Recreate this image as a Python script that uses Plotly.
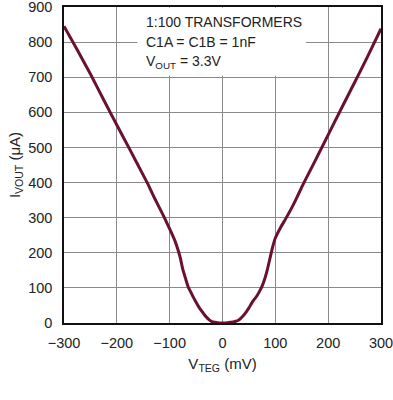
import plotly.graph_objects as go

# V_TEG (mV) and I_VOUT (uA)
v_teg = [-300, -275, -250, -225, -200, -175, -150, -140, -130, -120, -110, -100,
         -90, -85, -80, -75, -70, -65, -60, -55, -50, -45, -40, -35, -30, -25,
         -20, -15, -10, -5, 0, 5, 10, 15, 20, 25, 30, 35, 40, 45, 50, 55, 60,
         65, 70, 75, 80, 85, 90, 95, 100, 110, 120, 130, 140, 150, 160, 175,
         200, 225, 250, 275, 300]
i_vout = [845, 778, 709, 636, 564, 493, 421, 392, 360, 330, 300, 268,
          234, 212, 186, 152, 127, 103, 88, 73, 59, 46, 35, 25, 16, 9,
          4, 2, 1, 0, 0, 0, 1, 2, 3, 5, 8, 14, 22, 32, 43, 56, 67,
          77, 90, 105, 126, 153, 185, 217, 242, 272, 298, 325, 355, 387, 417, 461,
          536, 611, 685, 760, 838]

x_ticks = [-300, -200, -100, 0, 100, 200, 300]
y_ticks = [0, 100, 200, 300, 400, 500, 600, 700, 800, 900]
notes = ["1:100 TRANSFORMERS", "C1A = C1B = 1nF", "V<sub>OUT</sub> = 3.3V"]
note_y = [858, 801, 744]

FONT = "Liberation Sans, Arial, sans-serif"

fig = go.Figure()
fig.add_trace(go.Scatter(
    x=v_teg, y=i_vout, mode="lines",
    line=dict(color="#6a1030", width=3, shape="spline", smoothing=0.6),
    showlegend=False, hoverinfo="skip"))

fig.add_shape(type="rect", xref="x", yref="y", x0=-161, x1=158, y0=704, y1=898,
              fillcolor="white", line=dict(width=0), layer="above")

for t, yv in zip(notes, note_y):
    fig.add_annotation(x=-147, y=yv, xref="x", yref="y", text=t, showarrow=False,
                       xanchor="left", yanchor="middle", borderpad=0,
                       font=dict(family=FONT, size=14, color="#222"))

fig.update_layout(
    width=393, height=400,
    margin=dict(l=64, r=12, t=7, b=77),
    paper_bgcolor="white", plot_bgcolor="white",
    font=dict(family=FONT, size=15, color="#222"),
    xaxis=dict(range=[-300, 300], tickvals=x_ticks, showgrid=True,
               gridcolor="#8a8a8a", gridwidth=1, zeroline=False,
               showline=True, linecolor="#111", linewidth=1.5, mirror=True,
               ticks="", ticklabelstandoff=6, automargin=False,
               ticklabeloverflow="allow",
               tickfont=dict(size=14.5),
               title=dict(text="V<sub>TEG</sub> (mV)", standoff=8,
                          font=dict(size=15))),
    yaxis=dict(range=[0, 900], tickvals=y_ticks, showgrid=True,
               gridcolor="#8a8a8a", gridwidth=1, zeroline=False,
               showline=True, linecolor="#111", linewidth=1.5, mirror=True,
               ticks="", ticklabelstandoff=7, automargin=False,
               ticklabeloverflow="allow",
               tickfont=dict(size=14.5),
               title=dict(text="I<sub>VOUT</sub> (μA)", standoff=4,
                          font=dict(size=15))),
)

fig.write_html("out.html", config={"displayModeBar": False},
               post_script="document.body.style.margin='0';document.body.style.overflow='hidden';")
